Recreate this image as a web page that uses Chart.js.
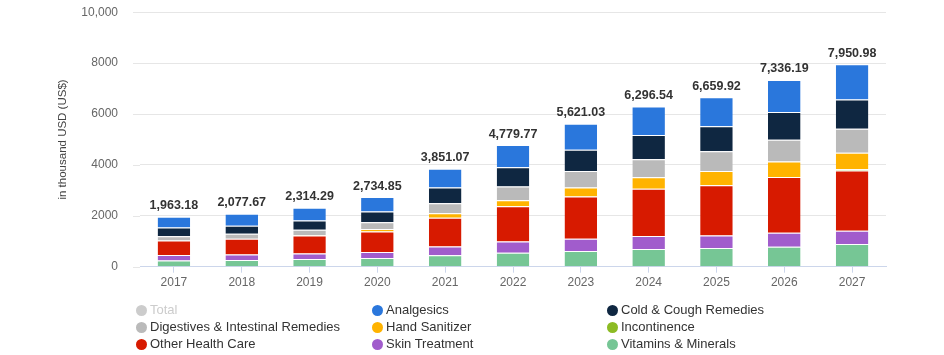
<!DOCTYPE html>
<html><head><meta charset="utf-8">
<script src="https://cdn.jsdelivr.net/npm/chart.js@4"></script>
<style>
html,body{margin:0;padding:0;background:#fff;}
#wrap{position:relative;width:944px;height:355px;overflow:hidden;}
#c{position:absolute;left:0;top:0;}
#legend{position:absolute;left:0;top:0;width:944px;height:355px;font-family:"Liberation Sans",Arial,sans-serif;font-size:13px;color:#333;}
.li{position:absolute;white-space:nowrap;line-height:14px;}
.dot{position:absolute;width:11px;height:11px;border-radius:50%;left:-14px;top:1.5px;}
</style></head>
<body>
<div id="wrap"><canvas id="c" width="944" height="355"></canvas><div id="legend"></div></div>
<script>
const years = ['2017','2018','2019','2020','2021','2022','2023','2024','2025','2026','2027'];
const totals = [1963.18, 2077.67, 2314.29, 2734.85, 3851.07, 4779.77, 5621.03, 6296.54, 6659.92, 7336.19, 7950.98];
const vitamins     = [242, 261, 301, 340, 445, 549, 614, 693, 732, 784, 888];
const skin         = [222, 222, 222, 235, 352, 444, 484, 510, 496, 549, 523];
const otherHealth  = [562, 615, 705, 810, 1125, 1386, 1660, 1856, 1974, 2195, 2366];
const incontinence = [0, 0, 0, 0, 0, 0, 0, 0, 0, 0, 50];
const sanitizer    = [0, 0, 10, 100, 183, 235, 352, 457, 562, 601, 655];
const digestives   = [170, 196, 213, 266, 392, 536, 655, 706, 770, 862, 941];
const coldCough    = [340, 314, 365, 418, 614, 760, 835, 954, 981, 1085, 1150];
const analgesics   = [427, 470, 498, 566, 740, 870, 1021, 1121, 1145, 1260, 1378];
const yTicks = [0, 2000, 4000, 6000, 8000, 10000];

const colors = {
  total:'#cccccc', analgesics:'#2a77dc', cold:'#0f2741', digestives:'#bababa',
  sanitizer:'#ffb300', incontinence:'#8cbb24', other:'#d71a00', skin:'#a15ccc', vitamins:'#76c695'
};

// legend layout (3 columns x 3 rows)
const legendItems = [
  ['Total', colors.total, true], ['Analgesics', colors.analgesics], ['Cold & Cough Remedies', colors.cold],
  ['Digestives & Intestinal Remedies', colors.digestives], ['Hand Sanitizer', colors.sanitizer], ['Incontinence', colors.incontinence],
  ['Other Health Care', colors.other], ['Skin Treatment', colors.skin], ['Vitamins & Minerals', colors.vitamins]
];
const colX = [150, 386, 621], rowY = [310, 327, 344];
const lg = document.getElementById('legend');
legendItems.forEach((it, i) => {
  const d = document.createElement('div');
  d.className = 'li';
  d.style.left = colX[i % 3] + 'px';
  d.style.top = (rowY[Math.floor(i / 3)] - 7) + 'px';
  if (it[2]) d.style.color = '#cccccc';
  const dot = document.createElement('span');
  dot.className = 'dot';
  dot.style.background = it[1];
  d.appendChild(dot);
  d.appendChild(document.createTextNode(it[0]));
  lg.appendChild(d);
});

Chart.defaults.font.family = '"Liberation Sans", Arial, sans-serif';

const fmt = v => v.toLocaleString('en-US', {minimumFractionDigits: 2, maximumFractionDigits: 2});
const totalsPlugin = {
  id: 'totals',
  beforeDatasetsDraw(chart) {
    // short extension of the horizontal grid lines left of the plot area
    const {ctx, chartArea, scales: {y}} = chart;
    ctx.save();
    ctx.strokeStyle = '#e6e6e6';
    ctx.lineWidth = 1;
    y.ticks.forEach(t => {
      const py = Math.round(y.getPixelForValue(t.value)) + 0.5;
      ctx.beginPath();
      ctx.moveTo(chartArea.left - 7, py);
      ctx.lineTo(chartArea.left, py);
      ctx.stroke();
    });
    ctx.restore();
  },
  afterDatasetsDraw(chart) {
    const {ctx, scales: {x, y}} = chart;
    ctx.save();
    ctx.font = 'bold 12.5px "Liberation Sans", Arial, sans-serif';
    ctx.fillStyle = '#333333';
    ctx.textAlign = 'center';
    ctx.textBaseline = 'middle';
    totals.forEach((t, i) => ctx.fillText(fmt(t), x.getPixelForValue(i), y.getPixelForValue(t) - 11));
    ctx.restore();
  }
};

const ds = (label, data, color) => ({
  label, data, backgroundColor: color, borderColor: '#ffffff',
  borderWidth: {top: 1, right: 0, bottom: 0, left: 0}, borderSkipped: false,
  barPercentage: 0.48, categoryPercentage: 1
});

new Chart(document.getElementById('c'), {
  type: 'bar',
  data: {
    labels: years,
    datasets: [
      ds('Vitamins & Minerals', vitamins, colors.vitamins),
      ds('Skin Treatment', skin, colors.skin),
      ds('Other Health Care', otherHealth, colors.other),
      ds('Incontinence', incontinence, colors.incontinence),
      ds('Hand Sanitizer', sanitizer, colors.sanitizer),
      ds('Digestives & Intestinal Remedies', digestives, colors.digestives),
      ds('Cold & Cough Remedies', coldCough, colors.cold),
      ds('Analgesics', analgesics, colors.analgesics)
    ]
  },
  options: {
    responsive: false, animation: false,
    layout: {padding: {top: 2, right: 58, left: 0, bottom: 0}},
    plugins: {legend: {display: false}, tooltip: {enabled: false}},
    scales: {
      x: {
        stacked: true,
        afterFit: s => { s.height = 88.3; },
        grid: {drawOnChartArea: false, offset: false, tickLength: 6, color: '#ccd6eb'},
        border: {color: '#ccd6eb', width: 1},
        ticks: {color: '#666666', font: {size: 12}, padding: 3}
      },
      y: {
        stacked: true, min: 0, max: 10000,
        afterFit: s => { s.width = 140; },
        afterBuildTicks: s => { s.ticks = yTicks.map(v => ({value: v})); },
        grid: {color: '#e6e6e6', tickLength: 17, tickColor: 'rgba(0,0,0,0)'},
        border: {display: false},
        ticks: {color: '#666666', font: {size: 12}, padding: 5,
          callback: v => v >= 10000 ? v.toLocaleString('en-US') : String(v)},
        title: {display: true, text: 'in thousand USD (US$)', color: '#444444', font: {size: 11.5}, padding: {top: 56, bottom: 0}}
      }
    }
  },
  plugins: [totalsPlugin]
});
</script>
</body></html>
